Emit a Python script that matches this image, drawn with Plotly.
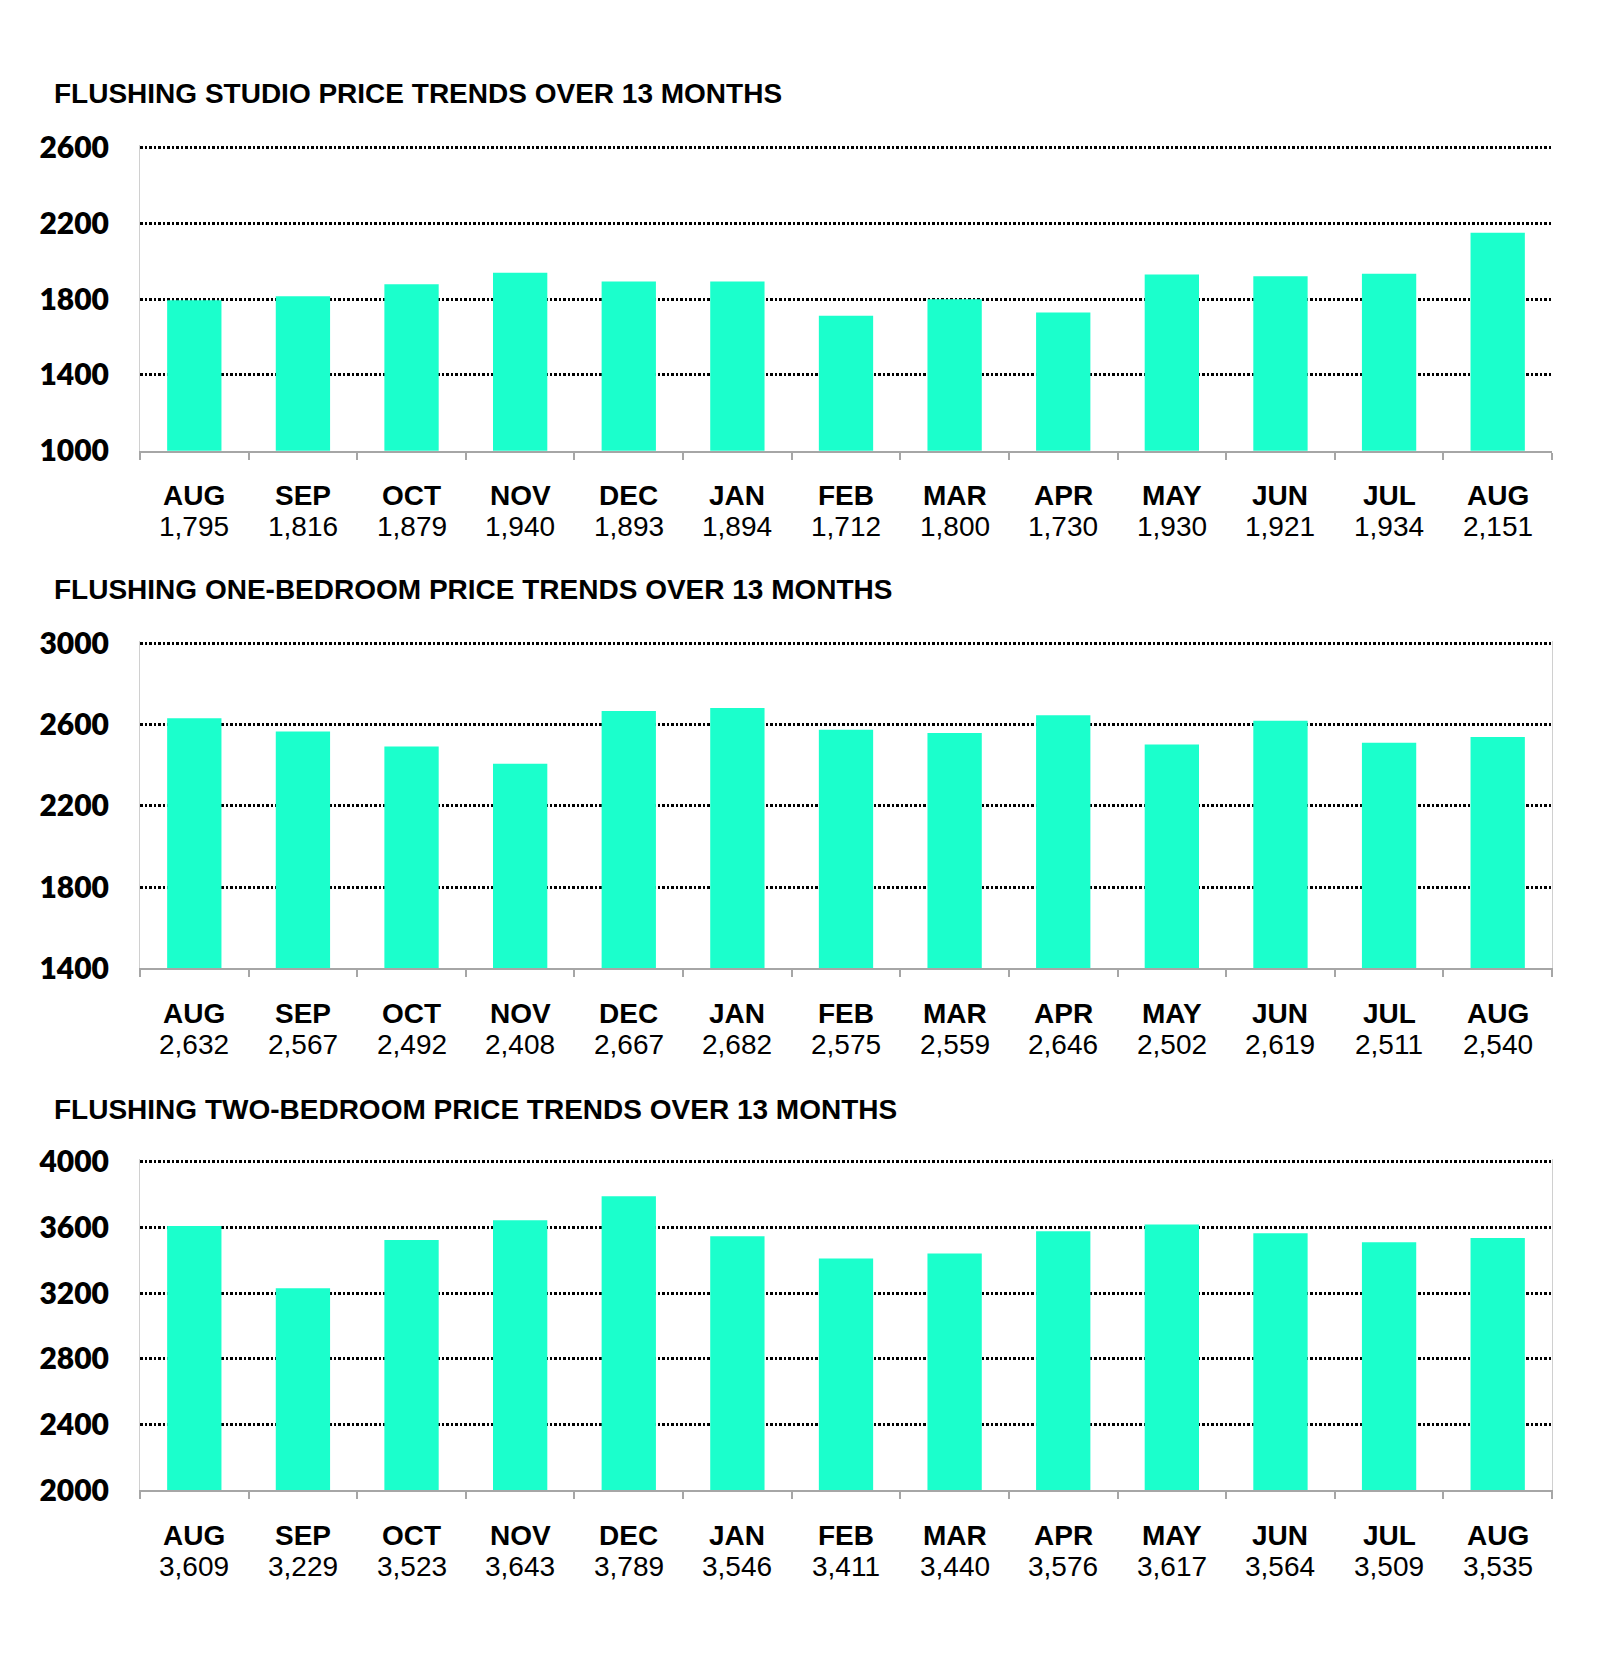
import plotly.graph_objects as go
from plotly.subplots import make_subplots

months = ["AUG", "SEP", "OCT", "NOV", "DEC", "JAN", "FEB", "MAR", "APR", "MAY", "JUN", "JUL", "AUG"]
studio = [1795, 1816, 1879, 1940, 1893, 1894, 1712, 1800, 1730, 1930, 1921, 1934, 2151]
one_bed = [2632, 2567, 2492, 2408, 2667, 2682, 2575, 2559, 2646, 2502, 2619, 2511, 2540]
two_bed = [3609, 3229, 3523, 3643, 3789, 3546, 3411, 3440, 3576, 3617, 3564, 3509, 3535]

titles = ["FLUSHING STUDIO PRICE TRENDS OVER 13 MONTHS",
          "FLUSHING ONE-BEDROOM PRICE TRENDS OVER 13 MONTHS",
          "FLUSHING TWO-BEDROOM PRICE TRENDS OVER 13 MONTHS"]
ranges = [[1000, 2600], [1400, 3000], [2000, 4000]]
series = [studio, one_bed, two_bed]

W, H = 1600, 1667
OFF = 8  # page body margin
BAR = "#1BFFCC"
EXT = 3  # px of headroom above the top gridline so plotly draws it

# target pixel layout (top, bottom) of each plot area and title centre
panels = [(147.7, 450.7, 94), (643.5, 968.3, 589), (1161.7, 1490.0, 1109)]
x0, x1 = 140, 1552


def py(p):
    return 1 - (p - OFF) / H


def px(p):
    return (p - OFF) / W


fig = make_subplots(rows=3, cols=1)
annotations = []
xcat = list(range(len(months)))
for i, (vals, rng, title, (top, bot, ty)) in enumerate(zip(series, ranges, titles, panels)):
    r = i + 1
    fig.add_trace(go.Bar(x=xcat, y=vals, marker=dict(color=BAR, line=dict(width=0)),
                         showlegend=False, hoverinfo="skip"), row=r, col=1)
    sfx = "" if r == 1 else str(r)
    fig.layout["xaxis" + sfx].update(
        domain=[px(x0), px(x1)], range=[-0.5, len(months) - 0.5],
        tickmode="array", tickvals=[k - 0.5 for k in range(len(months) + 1)],
        showticklabels=False,
        ticks="outside", ticklen=7, tickwidth=1.5, tickcolor="#a6a6a6",
        showline=True, linecolor="#a6a6a6", linewidth=2, showgrid=False, zeroline=False,
        fixedrange=True,
    )
    upp = (rng[1] - rng[0]) / (bot - top)
    fig.layout["yaxis" + sfx].update(
        domain=[py(bot), py(top - EXT)], range=[rng[0], rng[1] + EXT * upp], tickmode="array",
        tickvals=list(range(rng[0], rng[1] + 1, 400)),
        showgrid=True, gridcolor="#000000", griddash="2.5px,2px", gridwidth=2.5,
        showline=True, linecolor="#d0d0d0", linewidth=1, mirror=(r != 1),
        zeroline=False, ticks="", ticklabelstandoff=24,
        tickfont=dict(family="Lato", size=30, color="#000000", weight=800),
        fixedrange=True,
    )
    xr = "x" if r == 1 else "x" + str(r)
    for k, (m, v) in enumerate(zip(months, vals)):
        annotations.append(dict(x=k, y=py(bot + 45), xref=xr, yref="paper", text="<b>" + m + "</b>",
                                showarrow=False, xanchor="center", yanchor="middle",
                                font=dict(family="Liberation Sans", size=28, color="#000000")))
        annotations.append(dict(x=k, y=py(bot + 76), xref=xr, yref="paper", text=f"{v:,}",
                                showarrow=False, xanchor="center", yanchor="middle",
                                font=dict(family="Liberation Sans", size=28, color="#000000")))
    annotations.append(dict(x=px(52), y=py(ty), xref="paper", yref="paper", text="<b>" + title + "</b>",
                            showarrow=False, xanchor="left", yanchor="middle",
                            font=dict(family="Liberation Sans", size=28, color="#000000")))

fig.update_layout(
    width=W, height=H, margin=dict(l=0, r=0, t=0, b=0, autoexpand=False),
    paper_bgcolor="white", plot_bgcolor="white",
    bargap=0.5, annotations=annotations,
)
fig.write_html("out.html")
